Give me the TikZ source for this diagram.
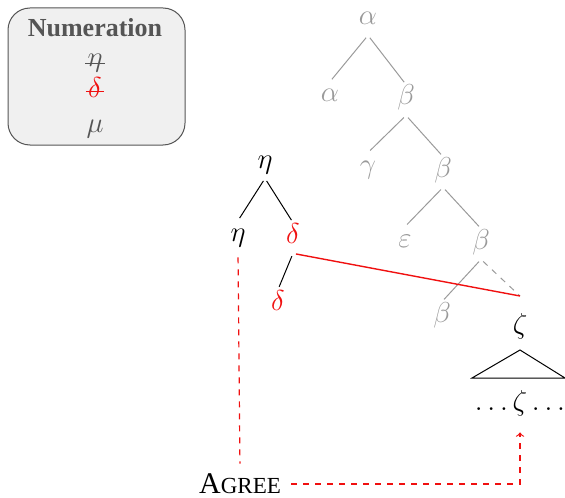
\documentclass[tikz,border=0pt]{standalone}
\usepackage{fontspec}
\setmainfont{Liberation Serif}
\usetikzlibrary{positioning}

\definecolor{treegray}{HTML}{9A9A9A}
\definecolor{boxgray}{HTML}{555555}
\definecolor{agreered}{HTML}{F01010}

\tikzset{
  lab/.style={font=\fontsize{13.5}{16}\selectfont, inner sep=2pt, text height=8pt, text depth=3pt},
  grey/.style={lab, text=treegray},
  edge/.style={draw=black, line width=0.5pt, shorten <=1.5pt, shorten >=1.5pt},
  greyedge/.style={edge, draw=treegray},
  agree/.style={draw=agreered, dashed, line width=0.6pt, dash pattern=on 3pt off 3pt}
}

\begin{document}
\begin{tikzpicture}[x=0.5pt, y=-0.5pt]
  \useasboundingbox (0,0) rectangle (565,497);

  % Numeration
  \draw[boxgray, fill=gray!12, rounded corners=11pt, line width=0.5pt] (8,8) rectangle (185,145);
  \node[font=\fontsize{13}{15}\selectfont\bfseries, text=boxgray] (numtitle) at (95,28) {Numeration};
  \node[lab, text=boxgray] (numeta) at (95,62) {$\eta$};
  \node[lab, text=agreered] (numdelta) at (95,93) {$\delta$};
  \node[lab, text=boxgray] (nummu) at (95,128) {$\mu$};
  \draw[boxgray, line width=0.5pt] ([xshift=1pt]numeta.west |- 0,64) -- ([xshift=-1pt]numeta.east |- 0,64);
  \draw[agreered, line width=0.5pt] ([xshift=1pt]numdelta.west |- 0,92) -- ([xshift=-1pt]numdelta.east |- 0,92);

  % Grey tree
  \node[grey] (a0) at (368,20) {$\alpha$};
  \node[grey] (a1) at (330,97) {$\alpha$};
  \node[grey] (b1) at (406,100) {$\beta$};
  \node[grey] (g2) at (368,168) {$\gamma$};
  \node[grey] (b2) at (443,172) {$\beta$};
  \node[grey] (e3) at (405,242) {$\varepsilon$};
  \node[grey] (b3) at (481,244) {$\beta$};
  \node[grey] (b4) at (442,317) {$\beta$};
  \draw[greyedge] (a0.south) -- (a1.north);
  \draw[greyedge] (a0.south) -- (b1.north);
  \draw[greyedge] (b1.south) -- (g2.north);
  \draw[greyedge] (b1.south) -- (b2.north);
  \draw[greyedge] (b2.south) -- (e3.north);
  \draw[greyedge] (b2.south) -- (b3.north);
  \draw[greyedge] (b3.south) -- (b4.north);

  % zeta
  \coordinate (zetatop) at (520,296);
  \node[lab] (zeta) at (520,328) {$\zeta$};
  \node[lab] (zetadots) at (520,405) {$\ldots\zeta\ldots$};
  \draw[line width=0.5pt] (472,378) -- (520,350) -- (565,378) -- cycle;
  \draw[greyedge, dashed, shorten >=0pt] (b3.south) -- (zetatop);

  % eta tree
  \node[lab] (eta0) at (265,163) {$\eta$};
  \node[lab] (eta1) at (238,236) {$\eta$};
  \node[lab, text=agreered] (delta1) at (293,238) {$\delta$};
  \node[lab, text=agreered] (delta2) at (278,305) {$\delta$};
  \draw[edge] (eta0.south) -- (eta1.north);
  \draw[edge] (eta0.south) -- (delta1.north);
  \draw[edge] (delta1.south) -- (delta2.north);
  \draw[agreered, line width=0.7pt, shorten <=1.5pt] (delta1.south) -- (zetatop);

  % Agree
  \node[font=\fontsize{15}{18}\selectfont, inner sep=1pt] (agree) at (240,484) {A{\fontsize{11.5}{14}\selectfont GREE}};
  \draw[agree, shorten <=3pt, shorten >=4pt] (eta1.south) -- (agree.north);
  \draw[agree, ->, shorten <=4pt, shorten >=6pt] (agree.east) -| (zetadots.south);
\end{tikzpicture}
\end{document}
